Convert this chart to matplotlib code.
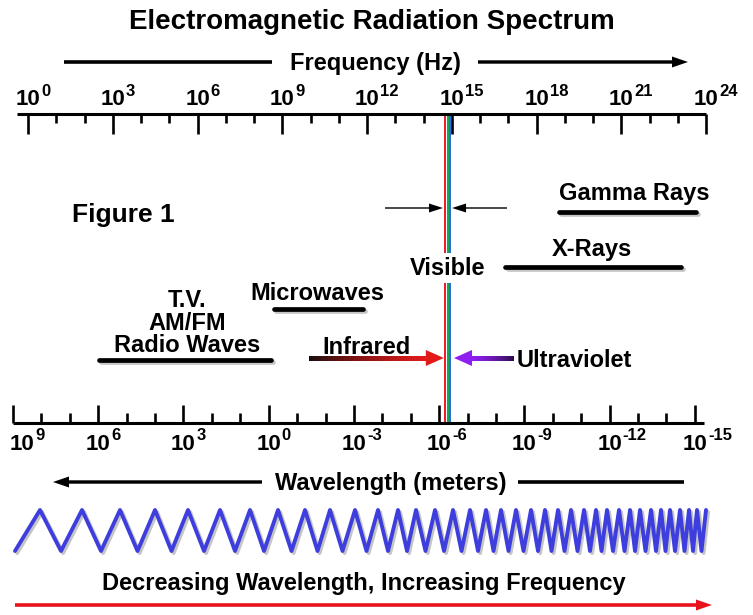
import numpy as np
import matplotlib
matplotlib.use("Agg")
import matplotlib.pyplot as plt
import matplotlib.patheffects as pe
from matplotlib.patches import FancyArrow, Polygon
from matplotlib.collections import LineCollection
from matplotlib.transforms import blended_transform_factory, offset_copy

plt.rcParams["font.family"] = ["Liberation Sans", "DejaVu Sans"]
plt.rcParams["font.weight"] = "bold"

# frequency scale (log10 Hz)
freq_labels = [0, 3, 6, 9, 12, 15, 18, 21, 24]
freq_minor = [1, 2, 4, 5, 7, 8, 10, 11, 13, 14, 16, 17, 19, 20, 22, 23]

# wavelength scale (log10 m)
wl_labels = [9, 6, 3, 0, -3, -6, -9, -12, -15]
wl_minor = [8, 7, 5, 4, 2, 1, -1, -2, -4, -5, -7, -8, -10, -11, -13, -14]

# bands, as log10 frequency ranges
radio = (2.5, 8.6)
micro = (8.7, 11.85)
infrared = (10.0, 14.72)
ultraviolet = (17.1, 15.08)
xrays = (16.9, 23.1)
gamma = (18.8, 23.65)
visible = [(14.76, "#e8202a"), (14.85, "#1aa64a"), (14.94, "#2a6ae8")]

# crests of the wave along the bottom
wave_crests = [40, 82, 120, 155, 188, 220, 250, 278, 305, 330, 355, 378, 398,
               416, 435, 453, 470, 486, 501, 516, 531, 545, 558, 571, 584, 596,
               607, 619, 630, 640, 651, 661, 670, 680, 689, 697, 706]

W, H = 753, 615
fig = plt.figure(figsize=(W / 100, H / 100), dpi=100)
ax = fig.add_axes([0, 0, 1, 1])
ax.set_xlim(0, W)
ax.set_ylim(H, 0)
ax.axis("off")

shadow = [pe.SimpleLineShadow(offset=(1.5, -1.5), shadow_color="0.5", alpha=0.45), pe.Normal()]


def scale_axes(x0, x1, y, lo, hi, inward, major_len, minor_len):
    a = fig.add_axes([x0 / W, 1 - y / H, (x1 - x0) / W, 1e-5])
    a.set_xscale("log")
    a.set_xlim(10.0 ** lo, 10.0 ** hi)
    a.patch.set_visible(False)
    for s in ("top", "left", "right"):
        a.spines[s].set_visible(False)
    a.spines["bottom"].set_linewidth(2.2)
    a.spines["bottom"].set_capstyle("butt")
    a.set_yticks([])
    d = "in" if inward else "out"
    a.tick_params(which="major", direction=d, length=major_len, width=1.9, labelbottom=False)
    a.tick_params(which="minor", direction=d, length=minor_len, width=1.9, labelbottom=False)
    return a


def power_labels(a, exps, base_y, raise_px, xmin=10):
    tr = blended_transform_factory(a.transData, ax.transData)
    for e in exps:
        x = ax.transData.inverted().transform(a.transData.transform((10.0 ** e, 1)))[0]
        shift = max(0, xmin - (x - 12))
        ax.text(10.0 ** e, base_y, "10", fontsize=16, ha="center", va="baseline",
                transform=offset_copy(tr, fig=fig, x=shift, units="dots"))
        ax.text(10.0 ** e, base_y - raise_px, str(e), fontsize=12, ha="left", va="baseline",
                transform=offset_copy(tr, fig=fig, x=shift + 13, units="dots"))


# top: frequency
ax_f = scale_axes(17, 706, 114, -0.39, 24, False, 14.5, 6.5)
ax_f.set_xticks([10.0 ** e for e in freq_labels])
ax_f.set_xticks([10.0 ** e for e in freq_minor], minor=True)
ax_f.xaxis.set_minor_formatter(plt.NullFormatter())
power_labels(ax_f, freq_labels, 105, 9)

# bottom: wavelength
ax_w = scale_axes(13, 704, 423, 9, -15.32, True, 13, 7.2)
ax_w.set_xticks([10.0 ** e for e in wl_labels])
ax_w.set_xticks([10.0 ** e for e in wl_minor], minor=True)
ax_w.xaxis.set_minor_formatter(plt.NullFormatter())
power_labels(ax_w, wl_labels, 450, 10)


def fx(e):
    # log10 frequency -> pixel x through the frequency axis
    disp = ax_f.transData.transform((10.0 ** e, 1))
    return ax.transData.inverted().transform(disp)[0]


# titles and axis arrows
ax.text(372, 29, "Electromagnetic Radiation Spectrum", fontsize=20, ha="center", va="baseline")
ax.text(375, 70, "Frequency (Hz)", fontsize=17, ha="center", va="baseline")
ax.plot([64, 272], [62, 62], color="black", lw=2.6, solid_capstyle="butt")
ax.add_patch(FancyArrow(478, 62, 210, 0, width=3.4, head_width=11, head_length=16,
                        length_includes_head=True, color="black", lw=0))
ax.text(391, 490, "Wavelength (meters)", fontsize=17, ha="center", va="baseline")
ax.plot([518, 684], [482, 482], color="black", lw=2.6, solid_capstyle="butt")
ax.add_patch(FancyArrow(262, 482, -209, 0, width=3.4, head_width=11, head_length=16,
                        length_includes_head=True, color="black", lw=0))

ax.text(72, 222, "Figure 1", fontsize=19, ha="left", va="baseline")

# visible band lines, one 2 px stripe per colour
for e, c in visible:
    x = round(fx(e))
    ax.plot([x, x], [114, 253], color=c, lw=1.44, solid_capstyle="butt")
    ax.plot([x, x], [283, 423], color=c, lw=1.44, solid_capstyle="butt")
ax.text(fx(14.85), 275, "Visible", fontsize=17, ha="center", va="baseline")
ax.add_patch(FancyArrow(385, 208, fx(visible[0][0]) - 387, 0, width=1.4, head_width=9,
                        head_length=14, length_includes_head=True, color="black", lw=0))
ax.add_patch(FancyArrow(507, 208, fx(visible[-1][0]) - 505, 0, width=1.4, head_width=9,
                        head_length=14, length_includes_head=True, color="black", lw=0))

# band bars
for (lo, hi), y in [(radio, 360), (micro, 309), (xrays, 267), (gamma, 212)]:
    ax.plot([fx(lo), fx(hi)], [y, y], color="black", lw=3.4, solid_capstyle="round",
            path_effects=shadow)
ax.text(187, 307, "T.V.", fontsize=17, ha="center", va="baseline")
ax.text(187, 330, "AM/FM", fontsize=17, ha="center", va="baseline")
ax.text(187, 352, "Radio Waves", fontsize=17, ha="center", va="baseline")
ax.text(317, 300, "Microwaves", fontsize=17, ha="center", va="baseline")
ax.text(592, 256, "X-Rays", fontsize=17, ha="center", va="baseline")
ax.text(634, 200, "Gamma Rays", fontsize=17, ha="center", va="baseline")
ax.text(367, 354, "Infrared", fontsize=17, ha="center", va="baseline")
ax.text(517, 367, "Ultraviolet", fontsize=17, ha="left", va="baseline")


def grad_arrow(e0, e1, c0, c1, y, head=18):
    x0, x1 = fx(e0), fx(e1)
    sgn = np.sign(x1 - x0)
    xb = x1 - sgn * head
    xs = np.linspace(x0, xb + sgn * 2, 60)
    segs = [[(xs[i], y), (xs[i + 1], y)] for i in range(len(xs) - 1)]
    t = np.linspace(0, 1, len(segs)) ** 0.7
    cols = [tuple((1 - v) * np.array(c0) + v * np.array(c1)) for v in t]
    ax.add_collection(LineCollection(segs, colors=cols, linewidths=3.6, capstyle="projecting"))
    ax.add_patch(Polygon([(x1, y), (xb, y - 8), (xb, y + 8)], closed=True, color=c1, lw=0))


grad_arrow(infrared[0], infrared[1], (0.05, 0.05, 0.05, 1), (0.89, 0.1, 0.1, 1), 358)
grad_arrow(ultraviolet[0], ultraviolet[1], (0.15, 0.05, 0.25, 1), (0.56, 0.12, 0.94, 1), 358)

# wave
cr = np.array(wave_crests, dtype=float)
tr = np.concatenate([[15], (cr[:-1] + cr[1:]) / 2])
vx = np.empty(2 * len(cr))
vy = np.empty(2 * len(cr))
vx[0::2], vx[1::2] = tr, cr
vy[0::2], vy[1::2] = 551, 510
ax.plot(vx, vy, color="#3e3ede", lw=2.8, solid_joinstyle="round", solid_capstyle="round",
        path_effects=shadow)

ax.text(364, 590, "Decreasing Wavelength, Increasing Frequency", fontsize=17,
        ha="center", va="baseline")
ax.add_patch(FancyArrow(15, 605, 697, 0, width=3.6, head_width=11, head_length=16,
                        length_includes_head=True, color="#e8141c", lw=0))

fig.savefig("out.png", dpi=100)
